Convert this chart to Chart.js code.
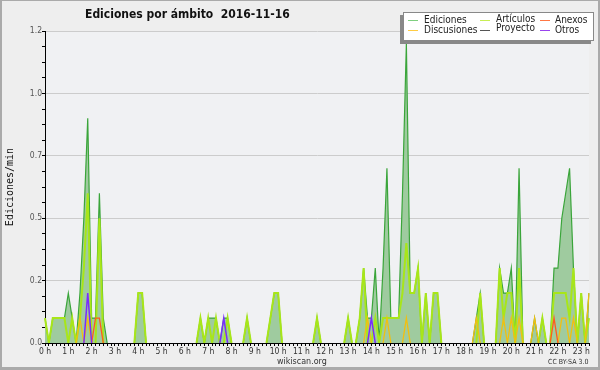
<!DOCTYPE html>
<html>
<head>
<meta charset="utf-8">
<script src="https://cdn.jsdelivr.net/npm/chart.js@4/dist/chart.umd.min.js"></script>
<style>
  html, body { margin: 0; padding: 0; background: #eeeeee; }
  #wrap { position: relative; width: 600px; height: 370px; overflow: hidden; background: #eeeeee; }
  canvas { position: absolute; left: 0; top: 0; }
  .txt { position: absolute; white-space: pre; line-height: 1; }
  #title { left: 85px; top: 7px; font: bold 12px 'DejaVu Sans Condensed', 'DejaVu Sans', sans-serif; color: #111; }
  #legend { position: absolute; left: 403px; top: 12px; width: 189px; height: 27px; background: #fff; border: 1px solid #888; box-shadow: -3px 3px 0 #888; }
  .li { position: absolute; font: 10px 'DejaVu Sans Condensed', 'DejaVu Sans', sans-serif; color: #222; white-space: nowrap; line-height: 1; }
  .ln { position: absolute; height: 1px; width: 10px; }
  #site { left: 277px; top: 357px; font: 8px 'DejaVu Sans', sans-serif; color: #333; }
  #lic { left: 548px; top: 358px; font: 7px 'DejaVu Sans Condensed', 'DejaVu Sans', sans-serif; color: #333; }
  #frame { position: absolute; left: 0; top: 0; width: 600px; height: 370px; box-sizing: border-box; border: 2px solid #aaaaaa; border-top-width: 1px; border-bottom-width: 3px; pointer-events: none; }
</style>
</head>
<body>
<div id="wrap">
  <canvas id="c" width="600" height="370"></canvas>
  <div id="title" class="txt">Ediciones por ámbito  2016-11-16</div>
  <div id="legend"></div>
  <div id="site" class="txt">wikiscan.org</div>
  <div id="lic" class="txt">CC BY-SA 3.0</div>
  <div id="frame"></div>
</div>
<script>
// Tick labels for the hours
const hourLabels = ['0 h','1 h','2 h','3 h','4 h','5 h','6 h','7 h','8 h','9 h','10 h','11 h',
  '12 h','13 h','14 h','15 h','16 h','17 h','18 h','19 h','20 h','21 h','22 h','23 h'];

// Edits per minute, in 10-minute slots (6 per hour), 00:00 .. 23:20
const ediciones = [
  0.1,0,0.1,0.1,0.1,0.1,      // 0h
  0.2,0.1,0,0.2,0.5,0.9,      // 1h
  0.1,0.1,0.6,0.1,0,0,        // 2h
  0,0,0,0,0,0,                // 3h
  0.2,0.2,0,0,0,0,            // 4h
  0,0,0,0,0,0,                // 5h
  0,0,0,0,0.1,0,              // 6h
  0.1,0.1,0.1,0,0.1,0.1,      // 7h
  0,0,0,0,0.1,0,              // 8h
  0,0,0,0,0.1,0.2,            // 9h
  0.2,0,0,0,0,0,              // 10h
  0,0,0,0,0.1,0,              // 11h
  0,0,0,0,0,0,                // 12h
  0.1,0,0,0.1,0.3,0.1,        // 13h
  0.1,0.3,0,0.3,0.7,0.1,      // 14h
  0.1,0.1,0.6,1.2,0.2,0.2,    // 15h
  0.3,0,0.2,0,0.2,0.2,        // 16h
  0,0,0,0,0,0,                // 17h
  0,0,0,0.1,0.2,0,            // 18h
  0,0,0,0.3,0.2,0.2,          // 19h
  0.3,0,0.7,0,0,0,            // 20h
  0.1,0,0.1,0,0,0.3,          // 21h
  0.3,0.5,0.6,0.7,0.3,0,      // 22h
  0.2,0,0.2                   // 23h
];
const articulos = [
  0.1,0,0.1,0.1,0.1,0.1,
  0,0.1,0,0.1,0.3,0.6,
  0,0,0.5,0,0,0,
  0,0,0,0,0,0,
  0.2,0.2,0,0,0,0,
  0,0,0,0,0,0,
  0,0,0,0,0.1,0,
  0.1,0,0.1,0,0,0.1,
  0,0,0,0,0.1,0,
  0,0,0,0,0.1,0.2,
  0.2,0,0,0,0,0,
  0,0,0,0,0.1,0,
  0,0,0,0,0,0,
  0.1,0,0,0.1,0.3,0,
  0,0.1,0,0.1,0.1,0.1,
  0.1,0.1,0.2,0.4,0.2,0.2,
  0.3,0,0.2,0,0.2,0.2,
  0,0,0,0,0,0,
  0,0,0,0,0.2,0,
  0,0,0,0.3,0.1,0.2,
  0.2,0,0.3,0,0,0,
  0,0,0.1,0,0,0.2,
  0.2,0.2,0.2,0.1,0.3,0,
  0.2,0,0.1
];
const discusiones = [
  0,0,0,0,0,0,
  0,0,0,0.1,0,0.1,
  0,0,0,0,0,0,
  0,0,0,0,0,0,
  0,0,0,0,0,0,
  0,0,0,0,0,0,
  0,0,0,0,0,0,
  0,0,0,0,0,0,
  0,0,0,0,0,0,
  0,0,0,0,0,0,
  0,0,0,0,0,0,
  0,0,0,0,0,0,
  0,0,0,0,0,0,
  0,0,0,0,0,0.1,
  0,0,0,0,0.1,0,
  0,0,0,0.1,0,0,
  0,0,0,0,0,0,
  0,0,0,0,0,0,
  0,0,0,0.1,0,0,
  0,0,0,0,0.1,0,
  0.1,0,0.1,0,0,0,
  0.1,0,0,0,0,0,
  0,0.1,0.1,0,0.1,0,
  0,0,0.2
];
const anexos = [
  0,0,0,0,0,0,
  0,0,0,0,0,0,
  0,0.1,0.1,0,0,0,
  0,0,0,0,0,0,
  0,0,0,0,0,0,
  0,0,0,0,0,0,
  0,0,0,0,0,0,
  0,0,0,0,0,0,
  0,0,0,0,0,0,
  0,0,0,0,0,0,
  0,0,0,0,0,0,
  0,0,0,0,0,0,
  0,0,0,0,0,0,
  0,0,0,0,0,0,
  0,0,0,0,0,0,
  0,0,0,0,0,0,
  0,0,0,0,0,0,
  0,0,0,0,0,0,
  0,0,0,0,0,0,
  0,0,0,0,0,0,
  0,0,0,0,0,0,
  0,0,0,0,0,0.1,
  0,0,0,0,0,0,
  0,0,0
];
const proyecto = [
  0,0,0,0,0,0, 0,0,0,0,0,0, 0,0,0,0,0,0, 0,0,0,0,0,0,
  0,0,0,0,0,0, 0,0,0,0,0,0, 0,0,0,0,0,0, 0,0,0,0,0,0,
  0,0,0,0,0,0, 0,0,0,0,0,0, 0,0,0,0,0,0, 0,0,0,0,0,0,
  0,0,0,0,0,0, 0,0,0,0,0,0, 0,0,0,0,0,0, 0,0,0,0,0,0,
  0,0,0,0,0,0, 0,0,0,0,0,0, 0,0,0,0,0,0, 0,0,0,0,0,0,
  0,0,0,0,0,0, 0,0,0,0,0,0, 0,0,0
];
const otros = [
  0,0,0,0,0,0,
  0,0,0,0,0,0.2,
  0,0,0,0,0,0,
  0,0,0,0,0,0,
  0,0,0,0,0,0,
  0,0,0,0,0,0,
  0,0,0,0,0,0,
  0,0,0,0,0.1,0,
  0,0,0,0,0,0,
  0,0,0,0,0,0,
  0,0,0,0,0,0,
  0,0,0,0,0,0,
  0,0,0,0,0,0,
  0,0,0,0,0,0,
  0.1,0,0,0,0,0,
  0,0,0,0,0,0,
  0,0,0,0,0,0,
  0,0,0,0,0,0,
  0,0,0,0,0,0,
  0,0,0,0,0,0,
  0,0,0,0,0,0,
  0,0,0,0,0,0,
  0,0,0,0,0,0,
  0,0,0
];

// Category slots (10 minutes each)
const slots = [];
for (let h = 0; h < 24; h++) for (let m = 0; m < 6; m++) slots.push(h + ':' + m + '0');
slots.length = ediciones.length;

const series = [
  { label: 'Ediciones',   data: ediciones,   color: '#3aa53a', legend: '#7fcf7f', width: 1.2, order: 6 },
  { label: 'Artículos',   data: articulos,   color: '#a8e619', legend: '#c8ee55', width: 2,   order: 5 },
  { label: 'Discusiones', data: discusiones, color: '#f2bf10', legend: '#ffcc44', width: 1.3, order: 4 },
  { label: 'Proyecto',    data: proyecto,    color: '#555555', legend: '#555555', width: 1,   order: 3 },
  { label: 'Anexos',      data: anexos,      color: '#ff5a1f', legend: '#ff7744', width: 1.3, order: 2 },
  { label: 'Otros',       data: otros,       color: '#7a2cff', legend: '#9944ee', width: 1.5, order: 1 }
];

const hideZero = ctx => (ctx.p0.parsed.y === 0 && ctx.p1.parsed.y === 0) ? 'rgba(0,0,0,0)' : undefined;

const datasets = series.map(s => ({
  label: s.label,
  data: s.data,
  borderColor: s.color,
  borderWidth: s.width,
  backgroundColor: s.label === 'Ediciones' ? '#9fcb9f' : 'rgba(0,0,0,0)',
  fill: s.label === 'Ediciones' ? 'origin' : false,
  pointRadius: 0,
  tension: 0,
  order: s.order,
  segment: { borderColor: hideZero }
}));

const plotBg = {
  id: 'plotBg',
  beforeDraw(chart) {
    const { ctx, chartArea: a } = chart;
    ctx.save();
    ctx.fillStyle = '#eeeeee';
    ctx.fillRect(0, 0, chart.width, chart.height);
    ctx.fillStyle = '#f0f1f3';
    ctx.fillRect(a.left, a.top, a.right - a.left, a.bottom - a.top);
    ctx.restore();
  }
};

const tickFont = { family: "'DejaVu Sans Condensed', 'DejaVu Sans', sans-serif", size: 8.5 };

new Chart(document.getElementById('c'), {
  type: 'line',
  data: { labels: slots, datasets },
  options: {
    responsive: false,
    animation: false,
    devicePixelRatio: 1,
    layout: { padding: { top: 31, right: 11, left: 0, bottom: 0 } },
    plugins: { legend: { display: false }, title: { display: false }, tooltip: { enabled: false } },
    scales: {
      x: {
        type: 'category',
        offset: false,
        grid: { display: true, drawOnChartArea: false, drawTicks: true, tickLength: 3, tickColor: '#000', tickWidth: 1 },
        border: { display: true, color: '#000', width: 1 },
        ticks: {
          autoSkip: false, maxRotation: 0, minRotation: 0, padding: 1,
          font: tickFont, color: '#333',
          callback: (v, i) => (i % 6 === 0 ? hourLabels[i / 6] : '')
        },
        afterFit: s => { s.height = 27; }
      },
      y: {
        min: 0, max: 1.25,
        grid: {
          display: true, drawTicks: true, tickLength: 3, tickColor: '#000',
          color: c => (c.tick && c.tick.value > 0 && Math.abs(c.tick.value % 0.25) < 1e-9) ? '#cccccc' : 'rgba(0,0,0,0)'
        },
        border: { display: true, color: '#000', width: 1 },
        ticks: {
          stepSize: 0.0625, autoSkip: false, padding: 0,
          font: tickFont, color: '#555',
          callback: v => (Math.abs(v % 0.25) < 1e-9 ? (Math.floor(v * 10 + 1e-9) / 10).toFixed(1) : '')
        },
        title: {
          display: true, text: 'Ediciones/min', color: '#111',
          font: { family: "'DejaVu Sans Mono', monospace", size: 10 },
          padding: { top: 4, bottom: 0 }
        },
        afterFit: s => { s.width = 45; }
      }
    }
  },
  plugins: [plotBg]
});

// Legend (3 columns x 2 rows)
const legendPos = {
  'Ediciones':   { lx: 4,  tx: 20,  y: 7,  ty: 2 },
  'Artículos':   { lx: 76, tx: 92,  y: 7,  ty: 1 },
  'Anexos':      { lx: 136, tx: 151, y: 7, ty: 2 },
  'Discusiones': { lx: 4,  tx: 20,  y: 17, ty: 12 },
  'Proyecto':    { lx: 76, tx: 92,  y: 17, ty: 10 },
  'Otros':       { lx: 136, tx: 151, y: 17, ty: 12 }
};
const lg = document.getElementById('legend');
series.forEach(s => {
  const p = legendPos[s.label];
  const ln = document.createElement('div');
  ln.className = 'ln';
  ln.style.left = p.lx + 'px';
  ln.style.top = p.y + 'px';
  ln.style.background = s.legend;
  lg.appendChild(ln);
  const t = document.createElement('div');
  t.className = 'li';
  t.style.left = p.tx + 'px';
  t.style.top = p.ty + 'px';
  t.textContent = s.label;
  lg.appendChild(t);
});
</script>
</body>
</html>
